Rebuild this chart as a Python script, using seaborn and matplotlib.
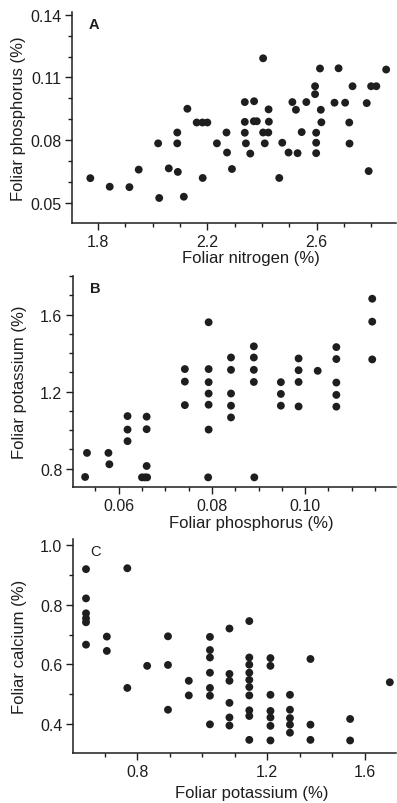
import matplotlib
matplotlib.use("Agg")
import matplotlib.pyplot as plt
import matplotlib.ticker as mticker
import seaborn as sns
import pandas as pd

# ---------------- data ----------------
# Panel A: foliar nitrogen (%) vs foliar phosphorus (%)
nitrogen_A = [1.772, 1.843, 1.915, 1.949, 2.020, 2.024, 2.059, 2.090, 2.090, 2.092,
              2.114, 2.127, 2.161, 2.182, 2.200, 2.183, 2.235, 2.270, 2.272, 2.290,
              2.337, 2.337, 2.337, 2.341, 2.357, 2.371, 2.370, 2.381, 2.404, 2.404,
              2.423, 2.410, 2.424, 2.425, 2.463, 2.474, 2.497, 2.511, 2.524, 2.530,
              2.545, 2.562, 2.594, 2.594, 2.598, 2.598, 2.598, 2.612, 2.615, 2.617,
              2.665, 2.680, 2.704, 2.719, 2.720, 2.731, 2.783, 2.790, 2.799, 2.818,
              2.854]
phosphorus_A = [0.0617, 0.0576, 0.0574, 0.0658, 0.0784, 0.0522, 0.0664, 0.0836, 0.0784, 0.0647,
                0.0528, 0.0950, 0.0884, 0.0884, 0.0884, 0.0618, 0.0784, 0.0836, 0.0740, 0.0661,
                0.0982, 0.0887, 0.0835, 0.0784, 0.0735, 0.0986, 0.0890, 0.0890, 0.1192, 0.0836,
                0.0836, 0.0784, 0.0947, 0.0888, 0.0618, 0.0787, 0.0740, 0.0982, 0.0945, 0.0737,
                0.0838, 0.0982, 0.1058, 0.1020, 0.0835, 0.0787, 0.0737, 0.1143, 0.0945, 0.0885,
                0.0979, 0.1144, 0.0979, 0.0884, 0.0783, 0.1058, 0.0977, 0.0651, 0.1058, 0.1058,
                0.1138]

# Panel B: foliar phosphorus (%) vs foliar potassium (%)
phosphorus_B = [0.0532, 0.0578, 0.0619, 0.0619, 0.0619, 0.0660, 0.0660,
                0.0742, 0.0742, 0.0742,
                0.0793, 0.0793, 0.0793, 0.0793, 0.0793, 0.0793,
                0.0841, 0.0841, 0.0841, 0.0841, 0.0841,
                0.0890, 0.0890, 0.0890, 0.0890,
                0.0948, 0.0948, 0.0948,
                0.0986, 0.0986, 0.0986, 0.0986,
                0.1027,
                0.1067, 0.1067, 0.1067, 0.1067, 0.1067,
                0.1144, 0.1144, 0.1144,
                0.0580, 0.0660, 0.0528, 0.0650, 0.0656, 0.0661, 0.0792, 0.0891]
potassium_B = [0.882, 0.882, 1.073, 1.003, 0.943, 1.070, 1.005,
               1.317, 1.252, 1.130,
               1.560, 1.317, 1.249, 1.190, 1.132, 1.003,
               1.377, 1.313, 1.190, 1.127, 1.066,
               1.435, 1.377, 1.313, 1.250,
               1.249, 1.188, 1.127,
               1.372, 1.311, 1.250, 1.123,
               1.308,
               1.431, 1.369, 1.247, 1.183, 1.122,
               1.682, 1.563, 1.367,
               0.823, 0.814, 0.757, 0.755, 0.755, 0.755, 0.755, 0.755]

# Panel C: foliar potassium (%) vs foliar calcium (%)
potassium_C = [0.743] * 6 + [0.807] * 2 + [0.870] * 2 + [0.931] + [0.995] * 3 + \
              [1.059] * 2 + [1.124] * 7 + [1.184] * 6 + [1.245] * 10 + [1.310] * 7 + \
              [1.370] * 5 + [1.433] * 3 + [1.555] * 2 + [1.677]
calcium_C = [0.919, 0.821, 0.771, 0.754, 0.741, 0.666,
             0.693, 0.645,
             0.922, 0.521,
             0.595,
             0.694, 0.598, 0.448,
             0.545, 0.496,
             0.692, 0.648, 0.623, 0.572, 0.521, 0.495, 0.399,
             0.720, 0.568, 0.545, 0.471, 0.422, 0.395,
             0.745, 0.623, 0.599, 0.572, 0.548, 0.524, 0.496, 0.446, 0.427, 0.347,
             0.621, 0.595, 0.498, 0.444, 0.422, 0.394, 0.345,
             0.498, 0.448, 0.420, 0.398, 0.371,
             0.618, 0.398, 0.347,
             0.417, 0.345,
             0.540]

# tick labels
A_xticks, A_xlabels = [1.8, 2.2, 2.6], ["1.8", "2.2", "2.6"]
A_yticks, A_ylabels = [0.05, 0.08, 0.11, 0.14], ["0.05", "0.08", "0.11", "0.14"]
B_xticks, B_xlabels = [0.06, 0.08, 0.10], ["0.06", "0.08", "0.10"]
B_yticks, B_ylabels = [0.8, 1.2, 1.6], ["0.8", "1.2", "1.6"]
# major tick labels of panel C sit where the original figure printed them
C_xticks, C_xlabels = [0.9, 1.3, 1.6], ["0.8", "1.2", "1.6"]
C_yticks, C_ylabels = [0.4, 0.6, 0.8, 1.0], ["0.4", "0.6", "0.8", "1.0"]

# ---------------- styling ----------------
sns.set_theme(style="ticks")
plt.rcParams["font.family"] = ["Liberation Sans", "DejaVu Sans"]
INK = "#1e1e1e"

fig = plt.figure(figsize=(3.97, 8.04), dpi=100)
W, H = 397.0, 804.0


def make_axes(left, top, right, bottom):
    return fig.add_axes([left / W, 1 - bottom / H, (right - left) / W, (bottom - top) / H])


axA = make_axes(72, 13, 396, 224)
axB = make_axes(73, 277, 396, 488)
axC = make_axes(73, 540, 396, 754)

panels = [
    (axA, nitrogen_A, phosphorus_A, "Foliar nitrogen (%)", "Foliar phosphorus (%)", "A", "bold",
     (1.705, 2.89), (0.0402, 0.1414), A_xticks, A_xlabels, 0.1, A_yticks, A_ylabels, 0.01,
     -0.128),
    (axB, phosphorus_B, potassium_B, "Foliar phosphorus (%)", "Foliar potassium (%)", "B", "bold",
     (0.0502, 0.1195), (0.705, 1.80), B_xticks, B_xlabels, 0.005, B_yticks, B_ylabels, 0.1,
     -0.133),
    (axC, potassium_C, calcium_C, "Foliar potassium (%)", "Foliar calcium (%)", "C", "normal",
     (0.703, 1.696), (0.303, 1.02), C_xticks, C_xlabels, 0.1, C_yticks, C_ylabels, 0.1,
     -0.150),
]

for (ax, xs, ys, xl, yl, letter, weight, xlim, ylim, xt, xtl, xminor, yt, ytl, yminor,
     xlab_y) in panels:
    df = pd.DataFrame({"x": xs, "y": ys})
    sns.scatterplot(data=df, x="x", y="y", ax=ax, s=32, color=INK, edgecolor="none",
                    linewidth=0, legend=False)
    ax.set_xlim(*xlim)
    ax.set_ylim(*ylim)
    ax.xaxis.set_major_locator(mticker.FixedLocator(xt))
    ax.set_xticklabels(xtl)
    ax.yaxis.set_major_locator(mticker.FixedLocator(yt))
    ax.set_yticklabels(ytl)
    ax.xaxis.set_minor_locator(mticker.MultipleLocator(xminor))
    ax.yaxis.set_minor_locator(mticker.MultipleLocator(yminor))
    sns.despine(ax=ax)
    for sp in ("left", "bottom"):
        ax.spines[sp].set_linewidth(1.1)
        ax.spines[sp].set_color(INK)
    ax.tick_params(which="major", direction="out", length=5.2, width=1.0, color=INK,
                   labelsize=11.5, labelcolor=INK, pad=2.5)
    ax.tick_params(which="minor", direction="out", length=3.2, width=1.0, color=INK)
    ax.set_xlabel(xl, fontsize=12, color=INK)
    ax.set_ylabel(yl, fontsize=12, color=INK)
    ax.xaxis.set_label_coords(0.553, xlab_y)
    ax.yaxis.set_label_coords(-0.142, 0.5)
    ax.text(0.052, 0.975, letter, transform=ax.transAxes, fontsize=10.5,
            fontweight=weight, color=INK, ha="left", va="top")
    ax.set_facecolor("white")

fig.patch.set_facecolor("white")
fig.savefig("out.png", dpi=100, facecolor="white")
